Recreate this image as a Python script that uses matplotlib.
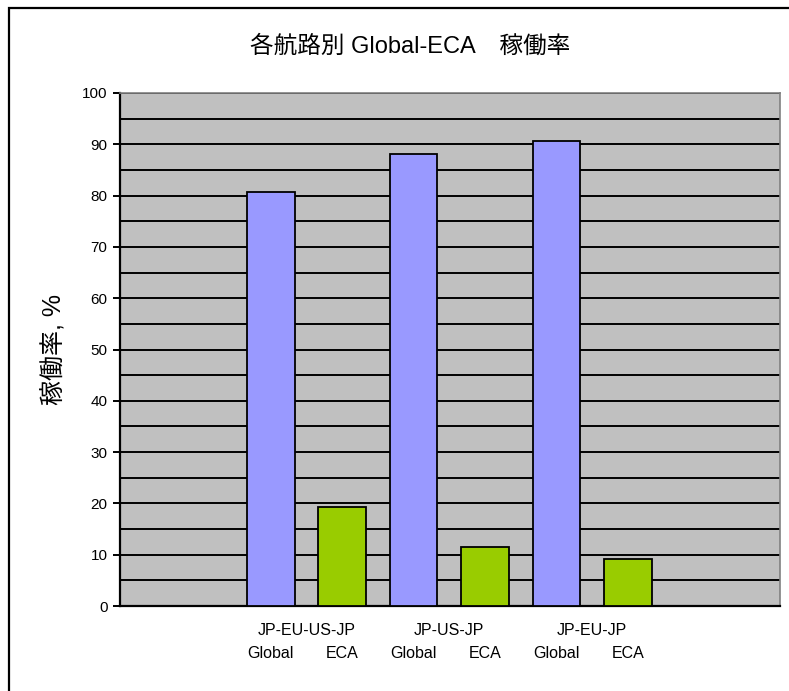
import matplotlib
matplotlib.use("Agg")
import matplotlib.pyplot as plt
from matplotlib.patches import Rectangle
import numpy as np

# values
routes = ["JP-EU-US-JP", "JP-US-JP", "JP-EU-JP"]
kinds = ["Global", "ECA"]
global_rate = [80.7, 88.1, 90.6]
eca_rate = [19.3, 11.5, 9.1]
yticks = [0, 10, 20, 30, 40, 50, 60, 70, 80, 90, 100]

FONT = ["Liberation Sans", "Noto Sans CJK JP"]
plt.rcParams["font.family"] = FONT

fig = plt.figure(figsize=(7.89, 6.91), dpi=100)
ax = fig.add_axes([120 / 789, 1 - 606 / 691, 660 / 789, 513 / 691])

# outer frame of the chart area
fig.add_artist(Rectangle((9 / 789, -0.05), 1.2, 1 - 8 / 691 + 0.05,
                         transform=fig.transFigure, fill=False,
                         edgecolor="black", linewidth=1.6))

ax.set_facecolor("#c0c0c0")
x_global = np.arange(len(routes)) * 2
x_eca = x_global + 1
w = 0.67
ax.bar(x_global, global_rate, width=w, color="#9999ff", edgecolor="black",
       linewidth=1.3, zorder=3)
ax.bar(x_eca, eca_rate, width=w, color="#99cc00", edgecolor="black",
       linewidth=1.3, zorder=3)

ax.set_xlim(-2.11, 7.13)
ax.set_ylim(0, 100)
ax.set_yticks(yticks)
ax.set_yticklabels([str(t) for t in yticks], fontsize=11)
ax.set_yticks(np.arange(5, 100, 10), minor=True)
ax.tick_params(axis="y", which="major", direction="out", length=5, width=1.4,
               pad=4)
ax.tick_params(axis="y", which="minor", length=0)
ax.grid(axis="y", which="both", color="black", linewidth=1.4, zorder=1)

ax.set_xticks([])
for s in ["left", "bottom"]:
    ax.spines[s].set_color("black")
    ax.spines[s].set_linewidth(1.6)
for s in ["top", "right"]:
    ax.spines[s].set_color("#808080")
    ax.spines[s].set_linewidth(1.2)

for i, r in enumerate(routes):
    xg, xe = x_global[i], x_eca[i]
    ax.annotate(r, xy=((xg + xe) / 2, 0), xycoords=("data", "axes fraction"),
                xytext=(0, -17.5), textcoords="offset points",
                ha="center", va="center", fontsize=11.5)
    for xx, k in zip([xg, xe], kinds):
        ax.annotate(k, xy=(xx, 0), xycoords=("data", "axes fraction"),
                    xytext=(0, -34), textcoords="offset points",
                    ha="center", va="center", fontsize=11.5)

ax.set_ylabel("稼働率, %", fontsize=18, labelpad=12)
fig.text(410 / 789, 1 - 47 / 691, "各航路別 Global-ECA\u3000稼働率",
         ha="center", va="center", fontsize=17)

fig.savefig("out.png", dpi=100)
